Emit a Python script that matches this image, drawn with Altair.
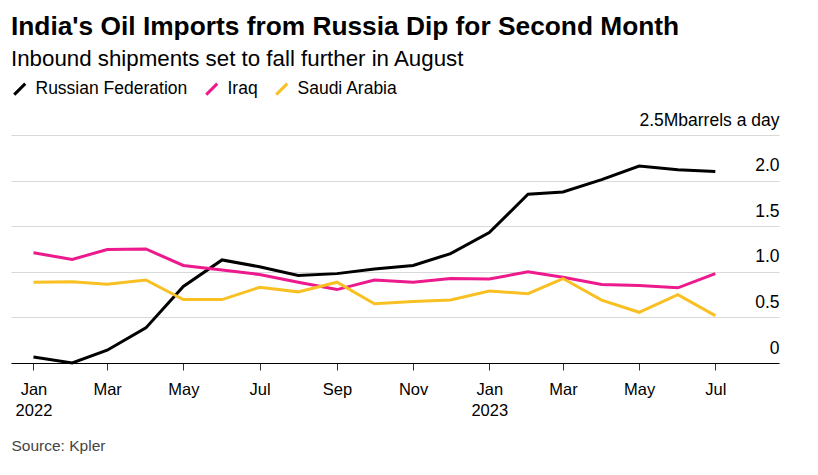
import altair as alt
import pandas as pd

months = ["2022-01-01", "2022-02-01", "2022-03-01", "2022-04-01", "2022-05-01", "2022-06-01",
          "2022-07-01", "2022-08-01", "2022-09-01", "2022-10-01", "2022-11-01", "2022-12-01",
          "2023-01-01", "2023-02-01", "2023-03-01", "2023-04-01", "2023-05-01", "2023-06-01",
          "2023-07-01"]
russia = [0.066, 0.0, 0.14, 0.385, 0.84, 1.13, 1.055, 0.96, 0.98, 1.03, 1.07, 1.20,
          1.43, 1.85, 1.875, 2.01, 2.16, 2.12, 2.10]
iraq = [1.21, 1.135, 1.245, 1.25, 1.07, 1.02, 0.97, 0.886, 0.805, 0.91, 0.886, 0.926,
        0.92, 1.0, 0.94, 0.86, 0.85, 0.824, 0.98]
saudi = [0.886, 0.89, 0.864, 0.91, 0.695, 0.695, 0.83, 0.78, 0.886, 0.65, 0.674, 0.69,
         0.79, 0.76, 0.926, 0.69, 0.556, 0.75, 0.52]
series_names = ["Russian Federation", "Iraq", "Saudi Arabia"]
series_colors = ["#000000", "#ec1a8c", "#f8c023"]
y_ticks = [0, 0.5, 1.0, 1.5, 2.0, 2.5]
x_tick_months = [(2022, 1), (2022, 3), (2022, 5), (2022, 7), (2022, 9), (2022, 11),
                 (2023, 1), (2023, 3), (2023, 5), (2023, 7)]

rows = []
for name, vals in zip(series_names, [russia, iraq, saudi]):
    for m, v in zip(months, vals):
        rows.append({"date": m, "value": v, "series": name})
df = pd.DataFrame(rows)

FONT = "Liberation Sans"

x_values = [alt.DateTime(year=y, month=m, date=1, utc=True) for y, m in x_tick_months]

chart = alt.Chart(df).mark_line(strokeWidth=3).encode(
    x=alt.X(
        "date:T",
        scale=alt.Scale(
            type="utc",
            domain=[alt.DateTime(year=2021, month=12, date=14, utc=True),
                    alt.DateTime(year=2023, month=8, date=21, utc=True)],
        ),
        axis=alt.Axis(
            values=x_values,
            labelExpr="utcFormat(datum.value, '%m') == '01' ? [utcFormat(datum.value, '%b'), utcFormat(datum.value, '%Y')] : utcFormat(datum.value, '%b')",
            title="Source: Kpler",
            titleX=0,
            titleY=87,
            titleAnchor="start",
            titleAlign="left",
            titleBaseline="alphabetic",
            titleFont=FONT,
            titleFontSize=15.5,
            titleFontWeight="normal",
            titleColor="#444444",
            grid=False,
            domainColor="#000000",
            domainWidth=1,
            tickColor="#333333",
            tickSize=7,
            labelPadding=11,
            labelFont=FONT,
            labelFontSize=16.5,
            labelColor="#000000",
            labelLineHeight=21,
            labelAlign="center",
        ),
    ),
    y=alt.Y(
        "value:Q",
        scale=alt.Scale(domain=[0, 2.5]),
        axis=alt.Axis(
            orient="right",
            values=y_ticks,
            labelExpr="datum.value == 2.5 ? '2.5Mbarrels a day' : (datum.value == 0 ? '0' : format(datum.value, '.1f'))",
            title=None,
            grid=True,
            gridColor="#d9d9d9",
            gridWidth=1,
            domain=False,
            ticks=False,
            tickSize=0,
            labelPadding=0,
            labelAlign="right",
            labelBaseline="alphabetic",
            labelOffset=-10,
            labelFont=FONT,
            labelFontSize=17.5,
            labelColor="#000000",
        ),
    ),
    color=alt.Color(
        "series:N",
        scale=alt.Scale(domain=series_names, range=series_colors),
        legend=alt.Legend(
            title=None,
            orient="none",
            legendX=0,
            legendY=-55,
            direction="horizontal",
            symbolType="M-1,1L1,-1",
            symbolSize=121,
            symbolStrokeWidth=3,
            labelFont=FONT,
            labelFontSize=17.5,
            labelColor="#000000",
            labelOffset=7,
            columnPadding=12,
        ),
    ),
).properties(
    width=768,
    height=228,
    padding={"left": 3, "top": 6, "right": 5, "bottom": 5},
    title=alt.TitleParams(
        text="India's Oil Imports from Russia Dip for Second Month",
        subtitle="Inbound shipments set to fall further in August",
        anchor="start",
        font=FONT,
        fontSize=26.3,
        fontWeight="bold",
        color="#000000",
        subtitleFont=FONT,
        subtitleFontSize=22.3,
        subtitleColor="#000000",
        subtitlePadding=7,
        offset=10,
    ),
).configure_view(stroke=None)

chart.save("out.html", embed_options={"renderer": "svg", "actions": False})
